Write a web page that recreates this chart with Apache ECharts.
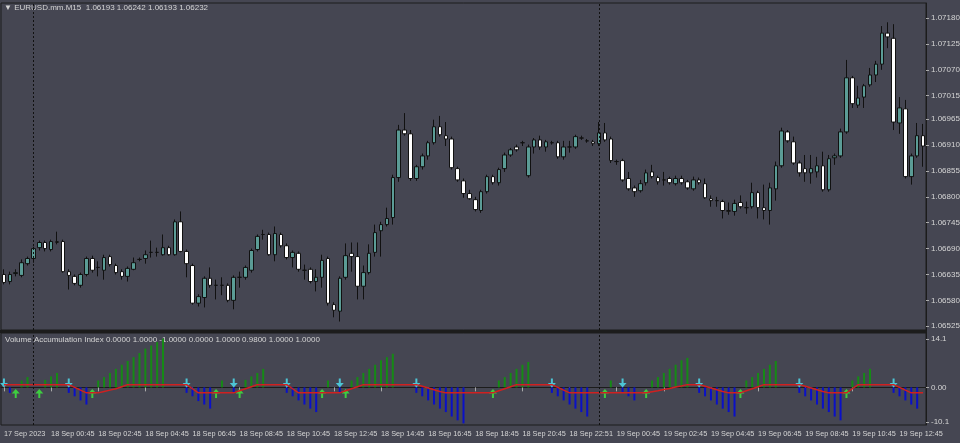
<!DOCTYPE html>
<html><head><meta charset="utf-8">
<script src="https://cdn.jsdelivr.net/npm/echarts@6/dist/echarts.min.js"></script>
<style>html,body{margin:0;padding:0;background:#454652}#c{width:960px;height:443px}</style>
</head><body><div id="c"></div>
<script>
// [open, close, low, high]
const candles = [
[1.06635,1.06618,1.06614,1.06646],[1.06620,1.06635,1.06614,1.06641],[1.06637,1.06639,1.06631,1.06646],[1.06633,1.06660,1.06629,1.06667],
[1.06658,1.06669,1.06654,1.06673],[1.06669,1.06690,1.06660,1.06694],[1.06692,1.06703,1.06686,1.06707],[1.06703,1.06690,1.06684,1.06707],
[1.06688,1.06705,1.06684,1.06709],[1.06705,1.06703,1.06699,1.06726],[1.06705,1.06641,1.06639,1.06709],[1.06641,1.06633,1.06603,1.06646],
[1.06631,1.06616,1.06612,1.06635],[1.06612,1.06635,1.06607,1.06639],[1.06635,1.06669,1.06631,1.06673],[1.06669,1.06644,1.06639,1.06675],
[1.06650,1.06650,1.06631,1.06663],[1.06644,1.06671,1.06624,1.06677],[1.06673,1.06656,1.06652,1.06677],[1.06654,1.06639,1.06635,1.06658],
[1.06641,1.06631,1.06624,1.06646],[1.06631,1.06648,1.06620,1.06652],[1.06646,1.06660,1.06644,1.06671],[1.06667,1.06667,1.06663,1.06671],
[1.06669,1.06677,1.06658,1.06686],[1.06682,1.06682,1.06671,1.06707],[1.06682,1.06682,1.06673,1.06692],[1.06677,1.06692,1.06675,1.06720],
[1.06692,1.06677,1.06675,1.06696],[1.06677,1.06747,1.06675,1.06752],[1.06747,1.06684,1.06682,1.06769],[1.06684,1.06658,1.06629,1.06688],
[1.06654,1.06574,1.06571,1.06658],[1.06574,1.06588,1.06567,1.06593],[1.06586,1.06627,1.06565,1.06631],[1.06627,1.06612,1.06607,1.06650],
[1.06612,1.06612,1.06582,1.06624],[1.06612,1.06612,1.06591,1.06629],[1.06612,1.06580,1.06576,1.06616],[1.06580,1.06629,1.06561,1.06633],
[1.06629,1.06629,1.06607,1.06641],[1.06629,1.06650,1.06624,1.06654],[1.06644,1.06686,1.06639,1.06690],[1.06688,1.06716,1.06684,1.06720],
[1.06720,1.06720,1.06709,1.06730],[1.06720,1.06677,1.06675,1.06724],[1.06677,1.06722,1.06663,1.06737],[1.06720,1.06696,1.06692,1.06724],
[1.06696,1.06671,1.06667,1.06701],[1.06671,1.06682,1.06650,1.06686],[1.06680,1.06646,1.06641,1.06684],[1.06644,1.06644,1.06624,1.06656],
[1.06646,1.06620,1.06616,1.06650],[1.06620,1.06629,1.06599,1.06646],[1.06629,1.06665,1.06607,1.06677],[1.06669,1.06574,1.06569,1.06673],
[1.06571,1.06559,1.06544,1.06576],[1.06557,1.06627,1.06535,1.06631],[1.06629,1.06675,1.06624,1.06701],[1.06680,1.06673,1.06641,1.06703],
[1.06673,1.06610,1.06582,1.06703],[1.06610,1.06639,1.06582,1.06654],[1.06639,1.06680,1.06635,1.06699],[1.06682,1.06724,1.06673,1.06741],
[1.06728,1.06741,1.06673,1.06747],[1.06741,1.06754,1.06737,1.06777],[1.06756,1.06841,1.06741,1.06847],[1.06841,1.06942,1.06832,1.06953],
[1.06942,1.06934,1.06930,1.06978],[1.06934,1.06839,1.06834,1.06942],[1.06839,1.06864,1.06834,1.06868],[1.06864,1.06887,1.06858,1.06892],
[1.06887,1.06915,1.06879,1.06919],[1.06915,1.06949,1.06911,1.06964],[1.06949,1.06932,1.06928,1.06972],[1.06930,1.06923,1.06908,1.06959],
[1.06923,1.06862,1.06858,1.06928],[1.06860,1.06836,1.06832,1.06864],[1.06834,1.06807,1.06798,1.06839],[1.06807,1.06796,1.06794,1.06815],
[1.06794,1.06773,1.06769,1.06800],[1.06771,1.06811,1.06766,1.06815],[1.06811,1.06843,1.06807,1.06847],[1.06843,1.06830,1.06826,1.06847],
[1.06830,1.06858,1.06824,1.06862],[1.06860,1.06889,1.06853,1.06894],[1.06889,1.06900,1.06885,1.06904],[1.06906,1.06900,1.06896,1.06911],
[1.06915,1.06915,1.06908,1.06919],[1.06845,1.06906,1.06841,1.06911],[1.06906,1.06921,1.06892,1.06925],[1.06921,1.06906,1.06900,1.06930],
[1.06906,1.06917,1.06896,1.06921],[1.06915,1.06915,1.06911,1.06919],[1.06915,1.06885,1.06881,1.06919],[1.06885,1.06906,1.06879,1.06919],
[1.06906,1.06906,1.06894,1.06919],[1.06906,1.06928,1.06902,1.06932],[1.06925,1.06925,1.06921,1.06930],[1.06919,1.06919,1.06915,1.06923],
[1.06917,1.06913,1.06908,1.06921],[1.06913,1.06936,1.06908,1.06959],[1.06936,1.06921,1.06917,1.06957],[1.06923,1.06877,1.06872,1.06928],
[1.06875,1.06875,1.06868,1.06879],[1.06877,1.06836,1.06832,1.06881],[1.06839,1.06817,1.06813,1.06853],[1.06819,1.06811,1.06800,1.06824],
[1.06813,1.06828,1.06809,1.06836],[1.06830,1.06851,1.06824,1.06858],[1.06853,1.06843,1.06839,1.06868],[1.06841,1.06832,1.06826,1.06845],
[1.06836,1.06836,1.06824,1.06853],[1.06839,1.06830,1.06826,1.06843],[1.06828,1.06839,1.06824,1.06845],[1.06839,1.06830,1.06826,1.06845],
[1.06832,1.06819,1.06815,1.06836],[1.06817,1.06836,1.06813,1.06843],[1.06836,1.06830,1.06826,1.06841],[1.06828,1.06798,1.06796,1.06839],
[1.06796,1.06792,1.06779,1.06803],[1.06792,1.06792,1.06779,1.06800],[1.06790,1.06771,1.06754,1.06794],[1.06771,1.06769,1.06762,1.06788],
[1.06769,1.06786,1.06760,1.06794],[1.06788,1.06779,1.06775,1.06803],[1.06777,1.06777,1.06764,1.06790],[1.06779,1.06809,1.06775,1.06830],
[1.06809,1.06777,1.06754,1.06813],[1.06777,1.06771,1.06752,1.06826],[1.06771,1.06819,1.06741,1.06830],[1.06817,1.06866,1.06792,1.06875],
[1.06866,1.06940,1.06862,1.06947],[1.06938,1.06919,1.06915,1.06942],[1.06917,1.06872,1.06868,1.06928],[1.06872,1.06851,1.06843,1.06877],
[1.06860,1.06851,1.06832,1.06889],[1.06851,1.06860,1.06828,1.06889],[1.06853,1.06866,1.06841,1.06885],[1.06866,1.06815,1.06811,1.06896],
[1.06815,1.06881,1.06811,1.06889],[1.06883,1.06887,1.06868,1.06892],[1.06887,1.06938,1.06883,1.06945],[1.06938,1.07053,1.06934,1.07091],
[1.07053,1.06998,1.06989,1.07057],[1.06995,1.07010,1.06989,1.07036],[1.07012,1.07036,1.06989,1.07040],[1.07038,1.07059,1.07034,1.07074],
[1.07059,1.07082,1.07044,1.07089],[1.07082,1.07148,1.07070,1.07163],[1.07148,1.07140,1.07116,1.07171],[1.07137,1.06959,1.06942,1.07167],
[1.06957,1.06989,1.06934,1.07012],[1.06987,1.06843,1.06839,1.07006],[1.06843,1.06887,1.06826,1.06892],[1.06887,1.06930,1.06883,1.06957],
[1.06930,1.06908,1.06864,1.06955]
];
const volBars = [
0,-1.6,0,2.0,3.0,0,0,2.2,3.2,4.2, 0,-1.6,-2.6,-3.8,-5.0,0,2.0,3.0,4.2,5.4,
6.6,7.7,8.8,10,11.3,12.2,13.2,14.2,0,0, 0,-1.6,-2.6,-4.0,-5.0,-6.2,0,2.0,0,-1.6,
0,2.2,3.2,4.2,5.4,0,0,0,-1.6,-2.6, -3.8,-5.0,-6.2,-7.2,0,2.0,0,-1.6,0,2.0,
3.0,4.2,5.4,6.6,7.9,8.8,9.8,0,0,0, -1.6,-2.6,-3.8,-5.0,-6.2,-7.2,-8.5,-9.6,-10.5,0,
0,0,0,0,2,3,4.2,5.4,6.6,7.4, 0,0,0,-1.6,-2.6,-3.8,-5,-6.2,-7.2,-8.5,
0,0,0,2.0,0,-1.6,-2.6,-3.8,0,0, 2,3,4.2,5.4,6.6,7.9,8.6,0,-1.6,-2.6,
-3.8,-5,-6.2,-7.2,-8.5,0,2,3,4.2,5.4, 6.6,7.7,0,0,0,-1.6,-2.6,-3.8,-5,-6.2,
-7.2,-8.5,-9.6,0,2,3.2,4.2,5.4,0,0, 0,-1.6,-2.6,-3.8,-5,-6.2,0
];
const signal = [
0.8,0.8,0.8,0.8,0.8,0.8,0.8,0.8,0.8,0.8, 0.8,0.8,0.0,-0.8,-1.6,-1.6,-1.6,-1.2,-0.8,-0.4,
0.2,0.8,0.8,0.8,0.8,0.8,0.8,0.8,0.8,0.8, 0.8,0.8,-0.4,-1.6,-1.6,-1.6,-1.6,-1.6,-1.6,-1.6,
-1.0,-0.4,0.2,0.8,0.8,0.8,0.8,0.8,0.8,-0.4, -1.6,-1.6,-1.6,-1.6,-1.6,-1.6,-1.6,-1.6,-1.0,-0.4,
0.2,0.8,0.8,0.8,0.8,0.8,0.8,0.8,0.8,0.8, 0.8,0.3,-0.2,-0.7,-1.2,-1.6,-1.6,-1.6,-1.6,-1.6,
-1.6,-1.6,-1.6,-1.6,-1.0,-0.4,0.2,0.8,0.8,0.8, 0.8,0.8,0.8,0.8,0.0,-0.8,-1.6,-1.6,-1.6,-1.6,
-1.6,-1.6,-1.6,-1.6,-1.6,-1.6,-1.6,-1.6,-1.6,-1.6, -1.3,-1.0,-0.6,-0.3,0.1,0.4,0.8,0.8,0.8,0.3,
-0.2,-0.7,-1.2,-1.6,-1.6,-1.6,-1.0,-0.4,0.2,0.8, 0.8,0.8,0.8,0.8,0.8,0.8,0.3,-0.2,-0.7,-1.2,
-1.6,-1.6,-1.6,-1.6,-0.4,0.8,0.8,0.8,0.8,0.8, 0.8,0.8,0.0,-0.8,-1.6,-1.6,-1.6
];
const downArrows = [0,11,31,39,48,57,70,93,105,118,135,151];
const upArrows = [2,6,15,36,40,54,58,83,102,109,125,143];
const timeLabels = ['17 Sep 2023','18 Sep 00:45','18 Sep 02:45','18 Sep 04:45','18 Sep 06:45','18 Sep 08:45','18 Sep 10:45','18 Sep 12:45','18 Sep 14:45','18 Sep 16:45','18 Sep 18:45','18 Sep 20:45','18 Sep 22:51','19 Sep 00:45','19 Sep 02:45','19 Sep 04:45','19 Sep 06:45','19 Sep 08:45','19 Sep 10:45','19 Sep 12:45'];
const priceTicks = [1.06525,1.06580,1.06635,1.06690,1.06745,1.06800,1.06855,1.06910,1.06965,1.07015,1.07070,1.07125,1.07180];
const indTicks = [14.1,0,-10.1];
const separators = [5,101];

const cats = candles.map((_, i) => String(i));
const txt = '#d4d4d4', frame = '#1c1c1c';
const font = {fontFamily:'Liberation Sans', fontSize:8, color:txt};
const chart = echarts.init(document.getElementById('c'), null, {renderer:'canvas'});
const showLbl = (i) => i % 8 === 0;
chart.setOption({
  backgroundColor:'#454652',
  animation:false,
  grid:[
    {left:1,top:3,width:925,height:327,show:true,borderColor:frame,borderWidth:1,outerBoundsMode:'none',containLabel:false},
    {left:1,top:333,width:925,height:92,show:true,borderColor:frame,borderWidth:1,outerBoundsMode:'none',containLabel:false}
  ],
  xAxis:[
    {type:'category',gridIndex:0,data:cats,boundaryGap:true,axisLine:{show:false},axisTick:{show:false},axisLabel:{show:false}},
    {type:'category',gridIndex:1,data:cats,boundaryGap:true,position:'bottom',
      axisLine:{show:true,lineStyle:{color:frame}},
      axisTick:{show:true,alignWithLabel:true,interval:(i)=>showLbl(i),length:4,lineStyle:{color:'#aaa'}},
      axisLabel:{...font,fontSize:7.3,interval:(i)=>showLbl(i),hideOverlap:false,showMinLabel:true,showMaxLabel:true,align:'left',margin:5,formatter:(v,i)=>timeLabels[i/8]||''}}
  ],
  yAxis:[
    {type:'value',gridIndex:0,position:'right',min:1.06517,max:1.07212,
      axisLine:{show:true,lineStyle:{color:frame}},splitLine:{show:false},
      axisTick:{show:true,customValues:priceTicks,length:3,lineStyle:{color:'#aaa'}},
      axisLabel:{...font,customValues:priceTicks,margin:5,formatter:(v)=>v.toFixed(5)}},
    {type:'value',gridIndex:1,position:'right',min:-10.97,max:15.85,
      axisLine:{show:true,lineStyle:{color:frame}},splitLine:{show:false},
      axisTick:{show:true,customValues:indTicks,length:3,lineStyle:{color:'#aaa'}},
      axisLabel:{...font,customValues:indTicks,margin:5,formatter:(v)=>v===0?'0.00':v.toFixed(1)}}
  ],
  series:[
    {type:'candlestick',xAxisIndex:0,yAxisIndex:0,data:candles,barWidth:4,
      itemStyle:{color:'#5b9c96',color0:'#ffffff',borderColor:'#111',borderColor0:'#111',borderWidth:1},
      markLine:{silent:true,symbol:'none',label:{show:false},lineStyle:{color:'#111',type:[2,2],width:1},
        data:separators.map(s=>({xAxis:s}))}},
    {type:'bar',xAxisIndex:1,yAxisIndex:1,data:volBars.map(v=>({value:v,itemStyle:{color:v>=0?'#158a15':'#0a10c8'}})),barWidth:2,
      markLine:{silent:true,symbol:'none',label:{show:false},lineStyle:{color:'#111',type:[2,2],width:1},
        data:separators.map(s=>({xAxis:s}))}},
    {type:'line',xAxisIndex:1,yAxisIndex:1,data:signal,symbol:'none',lineStyle:{color:'#d02020',width:1.5}},
    {type:'scatter',xAxisIndex:1,yAxisIndex:1,data:downArrows.map(i=>[String(i),1.3]),
      symbol:'path://M3,0 L5,0 L5,4 L8,4 L4,8 L0,4 L3,4 Z',symbolSize:[8,9],itemStyle:{color:'#4fe3f5'}},
    {type:'scatter',xAxisIndex:1,yAxisIndex:1,data:upArrows.map(i=>[String(i),-1.8]),
      symbol:'path://M4,0 L8,4 L5,4 L5,8 L3,8 L3,4 L0,4 Z',symbolSize:[8,9],itemStyle:{color:'#3cf03c'}}
  ],
  graphic:[
    {type:'rect',shape:{x:0,y:330,width:927,height:3},style:{fill:frame}},
    {type:'text',left:4,top:4,style:{text:'▼ EURUSD.mm.M15  1.06193 1.06242 1.06193 1.06232',fill:txt,font:'8px "Liberation Sans"'}},
    {type:'text',left:5,top:336,style:{text:'Volume Accumulation Index 0.0000 1.0000 -1.0000 0.0000 1.0000 0.9800 1.0000 1.0000',fill:txt,font:'8px "Liberation Sans"'}}
  ]
});
</script></body></html>
